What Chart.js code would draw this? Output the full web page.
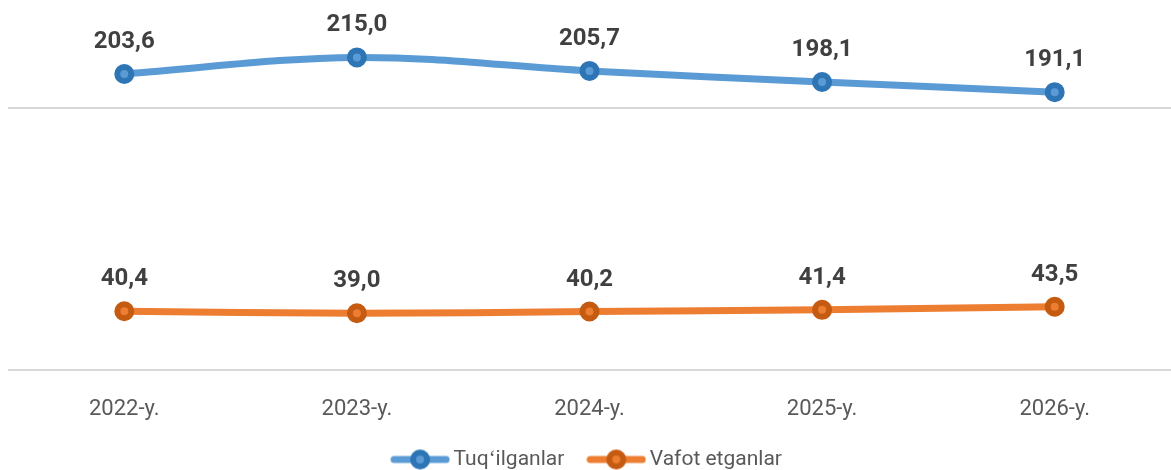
<!DOCTYPE html>
<html>
<head>
<meta charset="utf-8">
<script src="https://cdn.jsdelivr.net/npm/chart.js@4"></script>
<style>
  html, body { margin: 0; padding: 0; background: #ffffff; }
  #wrap { width: 1171px; height: 470px; }
</style>
</head>
<body>
<div id="wrap"><canvas id="demoChart"></canvas></div>
<script>
// Data
const years = ['2022-y.', '2023-y.', '2024-y.', '2025-y.', '2026-y.'];
const births = [203.6, 215.0, 205.7, 198.1, 191.1];
const deaths = [40.4, 39.0, 40.2, 41.4, 43.5];
const yTicks = [0, 180];

// legend marker: line with a dot in the middle
function legendIcon(lineColor, dotColor) {
  const c = document.createElement('canvas');
  c.width = 60;
  c.height = 22;
  const g = c.getContext('2d');
  g.strokeStyle = lineColor;
  g.lineWidth = 7;
  g.lineCap = 'round';
  g.beginPath();
  g.moveTo(4, 11);
  g.lineTo(56, 11);
  g.stroke();
  g.beginPath();
  g.arc(30, 11, 10, 0, Math.PI * 2);
  g.fillStyle = dotColor;
  g.fill();
  g.beginPath();
  g.arc(30, 11, 4, 0, Math.PI * 2);
  g.fillStyle = lineColor;
  g.fill();
  return c;
}

// value labels above the points
const valueLabels = {
  id: 'valueLabels',
  afterDatasetsDraw(chart) {
    const ctx = chart.ctx;
    ctx.save();
    ctx.font = 'bold 24px Roboto';
    ctx.fillStyle = '#404040';
    ctx.textAlign = 'center';
    ctx.textBaseline = 'middle';
    chart.data.datasets.forEach((ds, i) => {
      chart.getDatasetMeta(i).data.forEach((pt, j) => {
        ctx.fillText(ds.data[j].toFixed(1).replace('.', ','), pt.x, pt.y - 32);
      });
    });
    ctx.restore();
  }
};

const ctx = document.getElementById('demoChart').getContext('2d');
new Chart(ctx, {
  type: 'line',
  data: {
    labels: years,
    datasets: [{
      label: 'Tuqʻilganlar',
      data: births,
      borderColor: '#5b9bd5',
      backgroundColor: '#5b9bd5',
      borderWidth: 7,
      tension: 0.35,
      pointRadius: 7,
      pointBorderWidth: 6,
      pointBorderColor: '#2e75b6',
      pointBackgroundColor: '#5b9bd5',
      legendIcon: legendIcon('#5b9bd5', '#2e75b6')
    }, {
      label: 'Vafot etganlar',
      data: deaths,
      borderColor: '#ed7d31',
      backgroundColor: '#ed7d31',
      borderWidth: 7,
      tension: 0.35,
      pointRadius: 7,
      pointBorderWidth: 6,
      pointBorderColor: '#c55a11',
      pointBackgroundColor: '#ed7d31',
      legendIcon: legendIcon('#ed7d31', '#c55a11')
    }]
  },
  options: {
    responsive: true,
    maintainAspectRatio: false,
    animation: false,
    layout: {
      autoPadding: false,
      padding: { top: 10, left: 8, right: 0, bottom: -10 }
    },
    plugins: {
      tooltip: { enabled: false },
      legend: {
        position: 'bottom',
        labels: {
          usePointStyle: true,
          pointStyleWidth: 46,
          boxHeight: 22,
          padding: 29,
          color: '#595959',
          font: { family: 'Roboto', size: 21 },
          generateLabels(chart) {
            return chart.data.datasets.map((ds, i) => ({
              text: ds.label,
              pointStyle: ds.legendIcon,
              fontColor: '#595959',
              hidden: false,
              datasetIndex: i,
              lineWidth: 0
            }));
          }
        }
      }
    },
    scales: {
      x: {
        offset: true,
        grid: { display: false, drawTicks: false },
        border: { display: false },
        ticks: {
          color: '#595959',
          padding: 26,
          font: { family: 'Roboto', size: 22 }
        },
        afterFit(axis) {
          axis.height = 50;
        }
      },
      y: {
        min: 0,
        max: 247.6,
        border: { display: false },
        grid: { color: '#d9d9d9', lineWidth: 2, drawTicks: false },
        ticks: { display: false },
        afterFit(axis) {
          axis.width = 0;
        },
        afterBuildTicks(axis) {
          axis.ticks = yTicks.map(v => ({ value: v }));
        }
      }
    }
  },
  plugins: [valueLabels]
});
</script>
</body>
</html>
